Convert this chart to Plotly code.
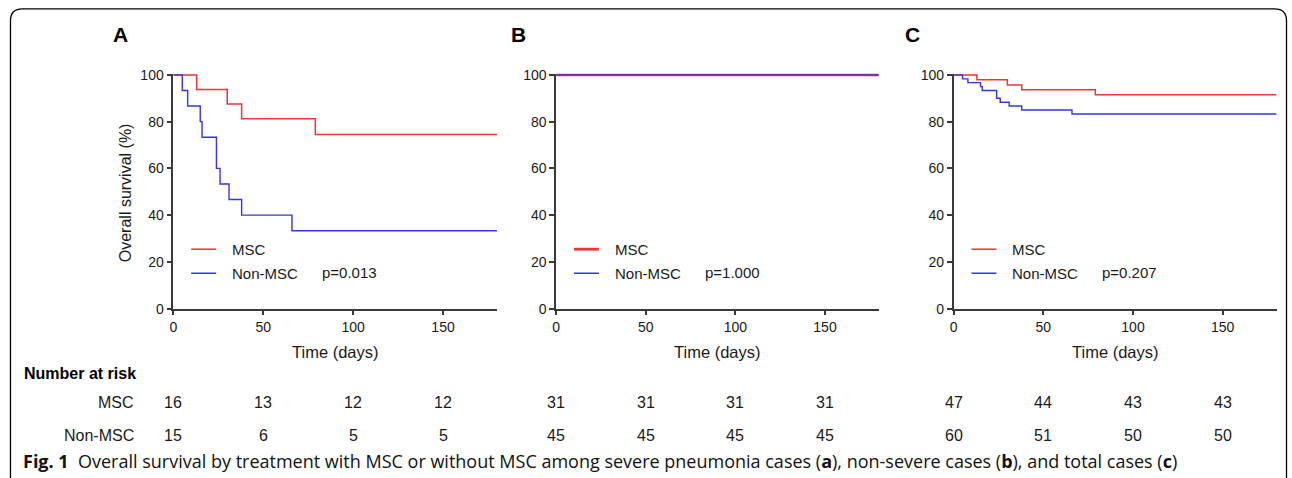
import plotly.graph_objects as go

W, H = 1292, 478

# ---------------- data ----------------
# Kaplan-Meier step curves (time in days, survival in %)
a_msc_t = [0, 13, 30, 38, 79, 180]
a_msc_s = [100, 93.75, 87.5, 81.25, 74.5, 74.5]
a_non_t = [0, 5, 8, 15, 16, 24, 26, 31, 38, 66, 180]
a_non_s = [100, 93.3, 86.7, 80.0, 73.3, 60.0, 53.3, 46.7, 40.0, 33.3, 33.3]

b_msc_t = [0, 180]
b_msc_s = [100, 100]
b_non_t = [0, 180]
b_non_s = [100, 100]

c_msc_t = [0, 13, 30, 38, 79, 180]
c_msc_s = [100, 97.9, 95.7, 93.6, 91.5, 91.5]
c_non_t = [0, 5, 8, 15, 16, 24, 26, 31, 38, 66, 180]
c_non_s = [100, 98.3, 96.7, 95.0, 93.3, 90.0, 88.3, 86.7, 85.0, 83.3, 83.3]

panel_letters = ["A", "B", "C"]
p_values = ["p=0.013", "p=1.000", "p=0.207"]
group_names = ["MSC", "Non-MSC"]

risk_times = [0, 50, 100, 150]
risk_a_msc = [16, 13, 12, 12]
risk_a_non = [15, 6, 5, 5]
risk_b_msc = [31, 31, 31, 31]
risk_b_non = [45, 45, 45, 45]
risk_c_msc = [47, 44, 43, 43]
risk_c_non = [60, 51, 50, 50]

x_ticks = [0, 50, 100, 150]
y_ticks = [0, 20, 40, 60, 80, 100]

caption = ("<b>Fig. 1</b>  Overall survival by treatment with MSC or without MSC among severe "
           "pneumonia cases (<b>a</b>), non-severe cases (<b>b</b>), and total cases (<b>c</b>)")

# ---------------- styling ----------------
RED = "rgb(238,52,52)"
BLUE = "rgb(52,52,232)"
AX = "#3a3a3a"
TXT = "#1a1a1a"
FONT = "Liberation Sans, Arial, sans-serif"

# screen placement calibration (target pixel -> paper fraction)
DX = 3.5
SY, DY = 0.967, 7.2


def px(x):
    return (x - DX) / W


def py(y):
    return 1 - ((y - DY) / SY) / H


def note(text, x, y, size, xanchor="center", color=TXT, family=FONT, **kw):
    return dict(text=text, x=px(x), y=py(y), xref="paper", yref="paper",
                xanchor=xanchor, yanchor="middle", showarrow=False,
                font=dict(size=size, color=color, family=family), **kw)


# target pixel geometry of the three plot areas
panels = [(173.3, 498.0), (557.3, 881.0), (956.0, 1280.0)]
letter_x = [120, 520, 915]
y0_px, y100_px = 308.3, 75.0
ytop = 100.6
ytop_px = y0_px - (y0_px - y100_px) * ytop / 100
ydom = [py(y0_px), py(ytop_px)]

fig = go.Figure()

series = [
    (a_msc_t, a_msc_s, a_non_t, a_non_s),
    (b_msc_t, b_msc_s, b_non_t, b_non_s),
    (c_msc_t, c_msc_s, c_non_t, c_non_s),
]
risks = [(risk_a_msc, risk_a_non), (risk_b_msc, risk_b_non), (risk_c_msc, risk_c_non)]

layout = dict(
    width=W, height=H, autosize=False,
    margin=dict(l=0, r=0, t=0, b=0, pad=0),
    paper_bgcolor="white", plot_bgcolor="white",
    showlegend=False,
    font=dict(family=FONT, color=TXT, size=14),
)

annotations = []
shapes = []

for i, ((x0, x1), (mt, ms, nt, ns)) in enumerate(zip(panels, series)):
    k = "" if i == 0 else str(i + 1)
    xa, ya = "x" + k, "y" + k
    red_w = 2.8 if i == 1 else 1.5
    fig.add_trace(go.Scatter(x=mt, y=ms, mode="lines", line=dict(color=RED, width=red_w, shape="hv"),
                             xaxis=xa, yaxis=ya, name=group_names[0]))
    fig.add_trace(go.Scatter(x=nt, y=ns, mode="lines", line=dict(color=BLUE, width=1.4, shape="hv"),
                             xaxis=xa, yaxis=ya, name=group_names[1]))
    layout["xaxis" + k] = dict(
        domain=[px(x0), px(x1)], range=[0, 180], anchor=ya,
        tickvals=x_ticks, ticks="outside", ticklen=5, tickwidth=1.5, tickcolor=AX,
        showline=True, linecolor=AX, linewidth=1.5, showgrid=False, zeroline=False,
        tickfont=dict(size=14, color=TXT, family=FONT), fixedrange=True,
    )
    layout["yaxis" + k] = dict(
        domain=ydom, range=[0, ytop], anchor=xa,
        tickvals=y_ticks, ticks="outside", ticklen=5, tickwidth=1.5, tickcolor=AX,
        showline=True, linecolor=AX, linewidth=1.5, showgrid=False, zeroline=False,
        tickfont=dict(size=14, color=TXT, family=FONT), fixedrange=True,
    )

    # panel letter
    annotations.append(note("<b>%s</b>" % panel_letters[i], letter_x[i], 35, 21, color="black"))
    # x axis title
    annotations.append(note("Time (days)", (x0 + x1) / 2, 352, 16.5))
    # legend
    lx0 = x0 + 18
    for j, (col, yy) in enumerate([(RED, 249), (BLUE, 273)]):
        shapes.append(dict(type="line", xref="paper", yref="paper",
                           x0=px(lx0), x1=px(lx0 + 25), y0=py(yy), y1=py(yy),
                           line=dict(color=col, width=(red_w if j == 0 else 1.5))))
        annotations.append(note(group_names[j], lx0 + 39, yy, 15, xanchor="left"))
    annotations.append(note(p_values[i], lx0 + 129, 272, 15, xanchor="left"))
    # numbers at risk
    rm, rn = risks[i]
    for t, vm, vn in zip(risk_times, rm, rn):
        annotations.append(dict(text=str(vm), x=t, xref=xa, y=py(402), yref="paper", showarrow=False,
                                xanchor="center", yanchor="middle",
                                font=dict(size=16, color=TXT, family=FONT)))
        annotations.append(dict(text=str(vn), x=t, xref=xa, y=py(435), yref="paper", showarrow=False,
                                xanchor="center", yanchor="middle",
                                font=dict(size=16, color=TXT, family=FONT)))

# y axis title (panel A only)
annotations.append(note("Overall survival (%)", 125, 193, 16, textangle=-90))

# number-at-risk header and row labels
annotations.append(note("<b>Number at risk</b>", 22, 373, 16, xanchor="left", color="black"))
annotations.append(note("MSC", 136, 402, 16, xanchor="right"))
annotations.append(note("Non-MSC", 136, 435, 16, xanchor="right"))

# caption
annotations.append(note(caption, 21, 460, 18, xanchor="left", color="#111",
                        family="Open Sans, Noto Sans, sans-serif"))

# outer rounded frame
r = 12
L, T, R, B = 10, 9, 1290, 500
path = ("M {} {} L {} {} Q {} {} {} {} L {} {} Q {} {} {} {} L {} {}".format(
    px(L), py(B), px(L), py(T + r), px(L), py(T), px(L + r), py(T),
    px(R - r), py(T), px(R), py(T), px(R), py(T + r), px(R), py(B)))
shapes.append(dict(type="path", xref="paper", yref="paper", path=path,
                   line=dict(color="black", width=1.3)))

layout["annotations"] = annotations
layout["shapes"] = shapes
fig.update_layout(**layout)

fig.write_html("out.html", config={"displayModeBar": False},
               post_script="document.body.style.margin='0';document.body.style.padding='0';"
                           "document.documentElement.style.overflow='hidden';")
